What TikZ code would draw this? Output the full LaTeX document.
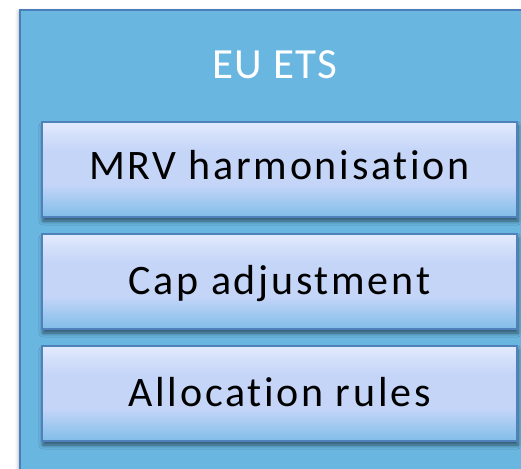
\documentclass[tikz,border=0pt]{standalone}
\usepackage{fontspec}
\setmainfont{Carlito}[Ligatures=NoCommon]
\usetikzlibrary{shadows.blur}
\definecolor{outerfill}{HTML}{69B6E0}
\definecolor{outerline}{HTML}{4A7EBB}
\definecolor{innerline}{HTML}{4F81BD}
\definecolor{gtop}{HTML}{E2EAFD}
\definecolor{gmid}{HTML}{C4D5F8}
\definecolor{gbot}{HTML}{80BDE8}
\pgfdeclareverticalshading{stepgrad}{100bp}{color(0bp)=(gbot); color(25bp)=(gbot); color(42bp)=(gmid); color(60bp)=(gmid); color(75bp)=(gtop); color(100bp)=(gtop)}
\tikzset{
  container/.style={draw=outerline, line width=2bp, fill=outerfill,
    blur shadow={shadow xshift=-2bp, shadow yshift=-1bp, shadow blur radius=3bp, shadow opacity=25}},
  stepbox/.style={draw=innerline, line width=2bp, shading=stepgrad,
    minimum width=475bp, minimum height=95bp, inner sep=0pt,
    blur shadow={shadow xshift=1bp, shadow yshift=-4bp, shadow blur radius=4bp, shadow opacity=55}},
  steplabel/.style={anchor=base, inner sep=0pt, text=black,
    font=\fontsize{42bp}{50bp}\selectfont\addfontfeature{LetterSpace=6.5}},
  title/.style={anchor=base, inner sep=0pt, text=white,
    font=\fontsize{43bp}{50bp}\selectfont\addfontfeature{LetterSpace=3}}
}
\begin{document}
\begin{tikzpicture}[x=1bp, y=-1bp]
  \useasboundingbox (0,0) rectangle (521,469);
  \begin{scope}
    \clip (0,0) rectangle (521,469);
    \draw[container] (20,10) rectangle (540,490);
  \end{scope}
  \node[title] (ets) at (275,79) {EU ETS};
  \node[stepbox] (mrv) at (279.5,169.5) {};
  \node[stepbox] (cap) at (279.5,281.5) {};
  \node[stepbox] (alloc) at (279.5,393.5) {};
  \node[steplabel] (mrvtext) at (mrv.center |- 0,180) {MRV harmonisation};
  \node[steplabel] (captext) at (cap.center |- 0,294) {Cap adjustment};
  \node[steplabel] (alloctext) at (alloc.center |- 0,406) {Allocation rules};
\end{tikzpicture}
\end{document}
